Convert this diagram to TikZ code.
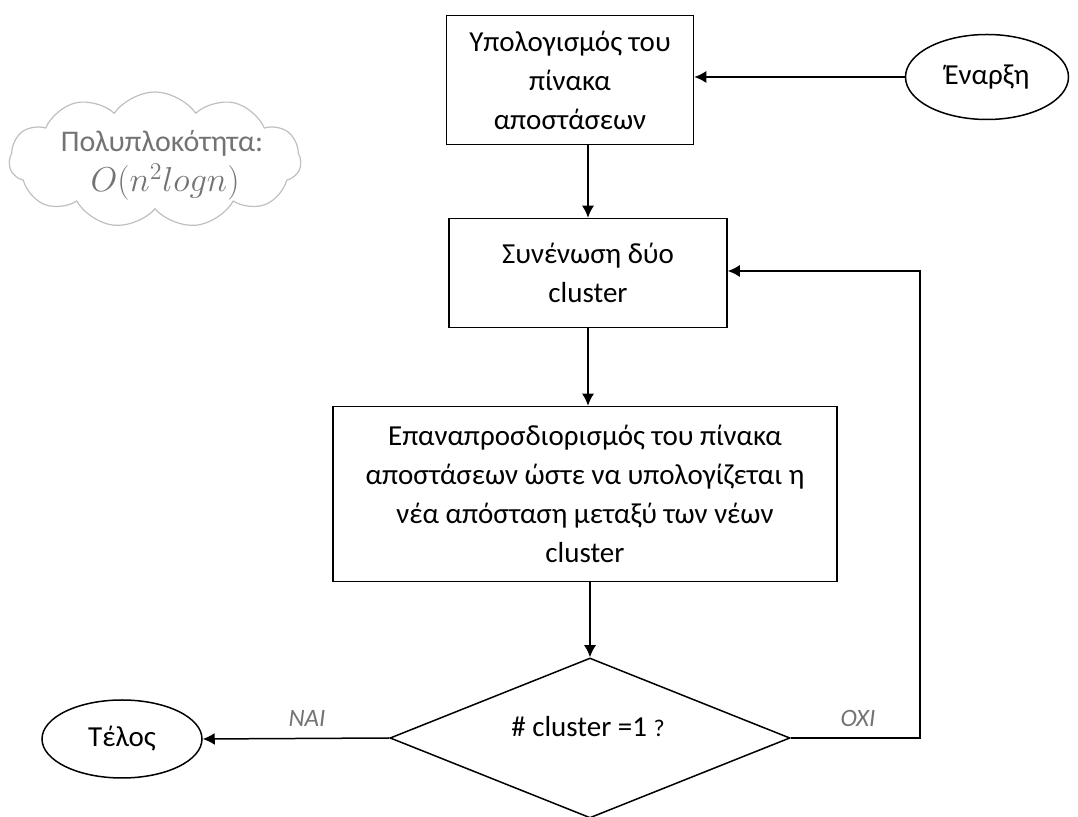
\documentclass[tikz,border=0pt]{standalone}
\usepackage{fontspec}
\setmainfont{Carlito}
\usetikzlibrary{shapes.geometric,shapes.symbols,arrows.meta}
\begin{document}
\begin{tikzpicture}[x=0.5pt,y=-0.5pt,
  font=\fontsize{14.5}{19.5}\selectfont,
  line width=0.75pt,
  box/.style={draw, align=center, inner sep=0pt},
  term/.style={draw, ellipse, inner sep=0pt},
  arr/.style={-{Latex[length=6pt,width=6pt]}},
  lbl/.style={font=\fontsize{12.5}{14}\selectfont\itshape, text=black!55},
  note/.style={text=black!55, font=\fontsize{15}{18}\selectfont, align=center, inner sep=0pt}]
\useasboundingbox (0,0) rectangle (1078,817);

\node[cloud, draw=black!25, line width=0.6pt, cloud puffs=11, cloud puff arc=110, aspect=2.2,
      minimum width=146pt, minimum height=68pt] (cloud) at (155,160) {};
\node[note] (cplx) at (162,143) {Πολυπλοκότητα:};
\node[note, font=\fontsize{17.5}{20}\selectfont] (cmath) at (165,182) {$O(n^2 logn)$};

\node[box, minimum width=123.5pt, minimum height=64.5pt] (b1) at (570,80)
  {Υπολογισμός του\\πίνακα\\αποστάσεων};
\node[term, minimum width=81.5pt, minimum height=42.5pt] (start) at (987,77) {Έναρξη};
\node[box, minimum width=139pt, minimum height=54.5pt] (b2) at (588,273)
  {Συνένωση δύο\\cluster};
\node[box, minimum width=252pt, minimum height=87.5pt] (b3) at (585,494)
  {Επαναπροσδιορισμός του πίνακα\\αποστάσεων ώστε να υπολογίζεται η\\νέα απόσταση μεταξύ των νέων\\cluster};
\node[draw, diamond, aspect=2.5, minimum width=200pt, minimum height=80pt, inner sep=0pt] (dec) at (590,738) {};
\node (dect) at (588,727) {\# cluster =1 {\fontsize{12}{14}\selectfont ?}};
\node[term, minimum width=80pt, minimum height=39pt] (end) at (122,739) {Τέλος};

\coordinate (loop) at (920,738);

\draw[arr] (start) -- (b1.east |- start);
\draw[arr] (b2.north |- b1.south) -- (b2.north);
\draw[arr] (b2.south) -- (b2.south |- b3.north);
\draw[arr] (dec.north |- b3.south) -- (dec.north);
\draw[arr] (dec.west) -- (end.east);
\draw[arr] (dec.east) -- (loop) |- ([yshift=1pt]b2.east);

\node[lbl] (nai) at (307,718) {NAI};
\node[lbl] (oxi) at (858,718) {OXI};
\end{tikzpicture}
\end{document}
